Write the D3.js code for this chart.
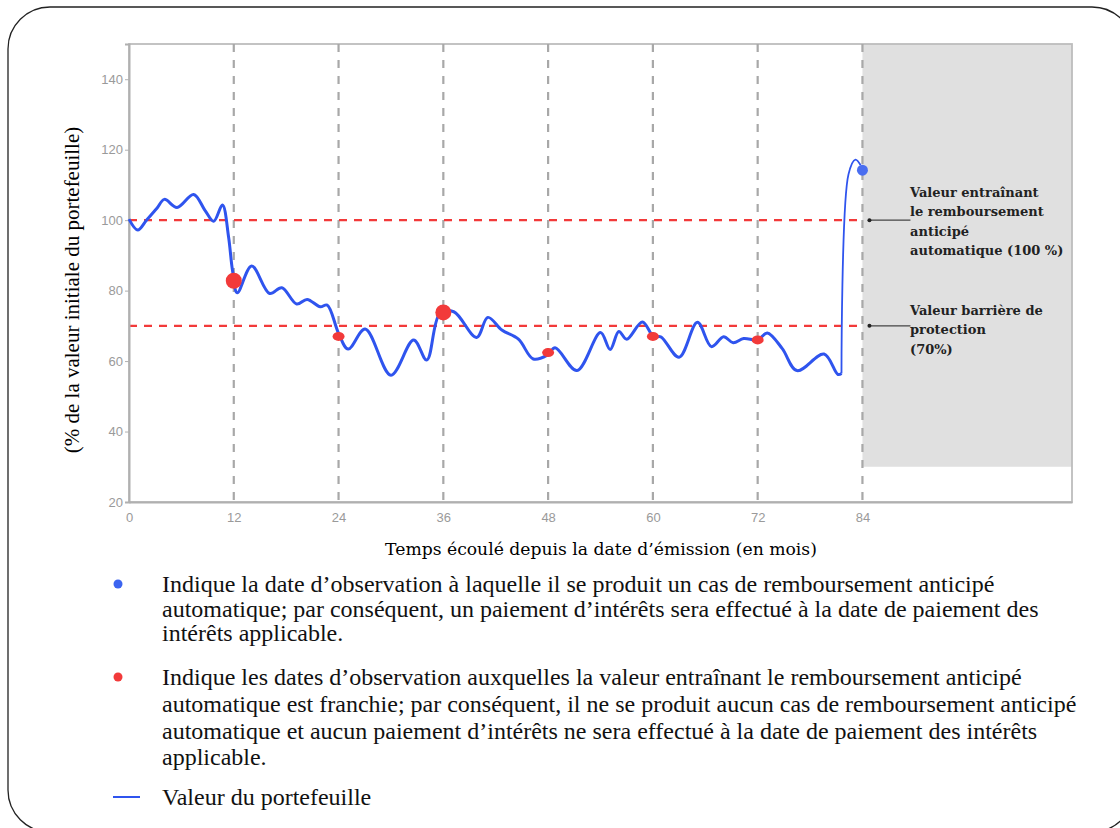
<!DOCTYPE html>
<html>
<head>
<meta charset="utf-8">
<script src="https://cdn.jsdelivr.net/npm/d3@7"></script>
<style>
  body { margin: 0; background: #fff; }
  svg { display: block; }
</style>
</head>
<body>
<svg width="1120" height="828"></svg>
<script>
// months since issue and portfolio value (% of initial)
const months = [0, 1, 2, 3.2, 4.05, 5.5, 7.4, 8.7, 9.7, 10.7, 11.4, 11.85, 12.4, 14.05, 16.1, 17.5, 19.2, 20.4, 21.9, 22.7,
  24, 25.1, 27.05, 30, 32.6, 34.1, 35.6, 37.2, 39.8, 41.1, 42.7, 44.6, 46.3, 47.9, 48.8, 51.3, 54, 55.1, 56.1, 57,
  58.8, 60.1, 60.9, 63, 65.1, 66.7, 68.1, 69.2, 70.4, 72, 73.1, 74.8, 76.5, 79.6, 81.2, 81.6, 82.4, 83.2, 83.8];
const values = [100.3, 97.2, 100, 103.4, 105.9, 103.6, 107.3, 102.8, 99.7, 104.3, 95.3, 85.8, 79.4, 87, 79.2, 80.8, 76.2, 77.5, 75.4, 75.9,
  67.9, 63.4, 69.1, 56, 66, 60.3, 73.5, 74, 66.7, 72.4, 68.8, 66.2, 60.6, 61.7, 63.8, 57.3, 68.1, 63.3, 68.4, 66.2,
  71.1, 66.9, 66.9, 61.1, 71, 64.1, 66.9, 65.2, 66.4, 66, 68, 63.6, 57.3, 62, 56.2, 56.5, 113, 117.2, 115.6];

const obsMonths = [12, 24, 36, 48, 60, 72, 84];
const obsValues = [82.8, 67, 73.8, 62.4, 67, 66, 114.2];
const obsKind = ["red", "red", "red", "red", "red", "red", "blue"];
const obsSize = [8, 6, 8, 6, 6, 6, 5.5];

const barriers = [100, 70];
const barrierLabels = [
  ["Valeur entraînant", "le remboursement", "anticipé", "automatique (100 %)"],
  ["Valeur barrière de", "protection", "(70%)"]
];
const yTicks = [20, 40, 60, 80, 100, 120, 140];
const xTicks = [0, 12, 24, 36, 48, 60, 72, 84];

const legendItems = [
  {kind: "blue", lines: [
    "Indique la date d’observation à laquelle il se produit un cas de remboursement anticipé",
    "automatique; par conséquent, un paiement d’intérêts sera effectué à la date de paiement des",
    "intérêts applicable."]},
  {kind: "red", lines: [
    "Indique les dates d’observation auxquelles la valeur entraînant le remboursement anticipé",
    "automatique est franchie; par conséquent, il ne se produit aucun cas de remboursement anticipé",
    "automatique et aucun paiement d’intérêts ne sera effectué à la date de paiement des intérêts",
    "applicable."]},
  {kind: "line", lines: ["Valeur du portefeuille"]}
];

const BLUE = "#2f54ee", RED = "#f23a3a";
const svg = d3.select("svg");

// rounded frame
svg.append("rect")
  .attr("x", 8).attr("y", 7).attr("width", 1126).attr("height", 825)
  .attr("rx", 42).attr("fill", "none").attr("stroke", "#222").attr("stroke-width", 1.3);

const x = d3.scaleLinear([0, 108], [129, 1072]);
const y = d3.scaleLinear([20, 150], [502, 44]);

// shaded area after maturity
svg.append("rect")
  .attr("x", x(84)).attr("y", y(150))
  .attr("width", x(108) - x(84)).attr("height", y(30) - y(150))
  .attr("fill", "#e0e0e0");

// plot frame
svg.append("rect")
  .attr("x", x(0)).attr("y", y(150))
  .attr("width", x(108) - x(0)).attr("height", y(20) - y(150))
  .attr("fill", "none").attr("stroke", "#bdbdbd").attr("stroke-width", 1.8);

// vertical observation lines
svg.append("g").selectAll("line").data(xTicks.slice(1)).join("line")
  .attr("x1", d => x(d)).attr("x2", d => x(d))
  .attr("y1", y(150)).attr("y2", y(20))
  .attr("stroke", "#a8a8a8").attr("stroke-width", 2.2)
  .attr("stroke-dasharray", "8,8");

// barrier lines
svg.append("g").selectAll("line").data(barriers).join("line")
  .attr("x1", x(0)).attr("x2", x(84))
  .attr("y1", d => y(d)).attr("y2", d => y(d))
  .attr("stroke", RED).attr("stroke-width", 2.2)
  .attr("stroke-dasharray", "8,7");

// axes
const yAxis = svg.append("g")
  .attr("transform", `translate(${x(0)},0)`)
  .call(d3.axisLeft(y).tickValues(yTicks).tickSize(4).tickPadding(2));
const xAxis = svg.append("g")
  .attr("transform", `translate(0,${y(20)})`)
  .call(d3.axisBottom(x).tickValues(xTicks).tickSize(0).tickPadding(11));
[yAxis, xAxis].forEach(g => {
  g.select(".domain").attr("stroke", "#b0b0b0").attr("stroke-width", 2);
  g.selectAll(".tick line").attr("stroke", "#b0b0b0");
  g.selectAll(".tick text").attr("fill", "#9a9a9a")
    .style("font", "13px 'Liberation Sans', Arial, sans-serif");
});

// portfolio value line
const line = d3.line().x(d => x(d[0])).y(d => y(d[1])).curve(d3.curveCatmullRom.alpha(0.5));
const pts = months.map((m, i) => [m, values[i]]);
const split = months.indexOf(81.6);
svg.append("path").datum(pts.slice(0, split + 1))
  .attr("d", line).attr("fill", "none")
  .attr("stroke", BLUE).attr("stroke-width", 3).attr("stroke-linejoin", "round");
svg.append("path").datum(pts.slice(split))
  .attr("d", line).attr("fill", "none")
  .attr("stroke", BLUE).attr("stroke-width", 1.8);

// observation markers
svg.append("g").selectAll("ellipse").data(obsMonths).join("ellipse")
  .attr("cx", d => x(d)).attr("cy", (d, i) => y(obsValues[i]))
  .attr("rx", (d, i) => obsSize[i]).attr("ry", (d, i) => obsKind[i] === "red" && obsSize[i] < 7 ? 4.5 : obsSize[i])
  .attr("fill", (d, i) => obsKind[i] === "red" ? RED : "#4a6ef0");

// barrier annotations
barriers.forEach((b, i) => {
  const g = svg.append("g");
  g.append("line").attr("x1", x(84) + 7).attr("x2", x(84) + 48)
    .attr("y1", y(b)).attr("y2", y(b)).attr("stroke", "#444").attr("stroke-width", 1.3);
  g.append("circle").attr("cx", x(84) + 7).attr("cy", y(b)).attr("r", 2).attr("fill", "#222");
  const top = i === 0 ? 192 : 310;
  g.append("g").selectAll("text").data(barrierLabels[i]).join("text")
    .attr("x", 910).attr("y", (d, j) => top + j * 19.5)
    .attr("dy", "0.35em")
    .attr("fill", "#222")
    .style("font", "bold 13px 'DejaVu Serif', serif")
    .text(d => d);
});

// axis titles
svg.append("text")
  .attr("transform", `translate(72,${(y(20) + y(150)) / 2 + 17}) rotate(-90)`)
  .attr("text-anchor", "middle").attr("dy", "0.35em")
  .style("font", "21px 'Liberation Serif', 'Times New Roman', serif")
  .text("(% de la valeur initiale du portefeuille)");
svg.append("text")
  .attr("x", 601).attr("y", 549).attr("dy", "0.35em")
  .attr("text-anchor", "middle")
  .style("font", "17.2px 'DejaVu Serif', serif")
  .text("Temps écoulé depuis la date d’émission (en mois)");

// legend
const legendTops = [584, 677, 797];
const legendSteps = [24.5, 26.6, 0];
legendItems.forEach((item, i) => {
  const g = svg.append("g");
  const cy = legendTops[i];
  if (item.kind === "line") {
    g.append("line").attr("x1", 113).attr("x2", 140).attr("y1", cy).attr("y2", cy)
      .attr("stroke", BLUE).attr("stroke-width", 2);
  } else {
    g.append("circle").attr("cx", 118).attr("cy", cy).attr("r", 4.5)
      .attr("fill", item.kind === "blue" ? "#3c64f0" : RED);
  }
  g.selectAll("text").data(item.lines).join("text")
    .attr("x", 162).attr("y", (d, j) => cy + j * legendSteps[i])
    .attr("dy", "0.35em")
    .attr("fill", "#111")
    .style("font", "24px 'Liberation Serif', 'Times New Roman', serif")
    .text(d => d);
});
</script>
</body>
</html>
